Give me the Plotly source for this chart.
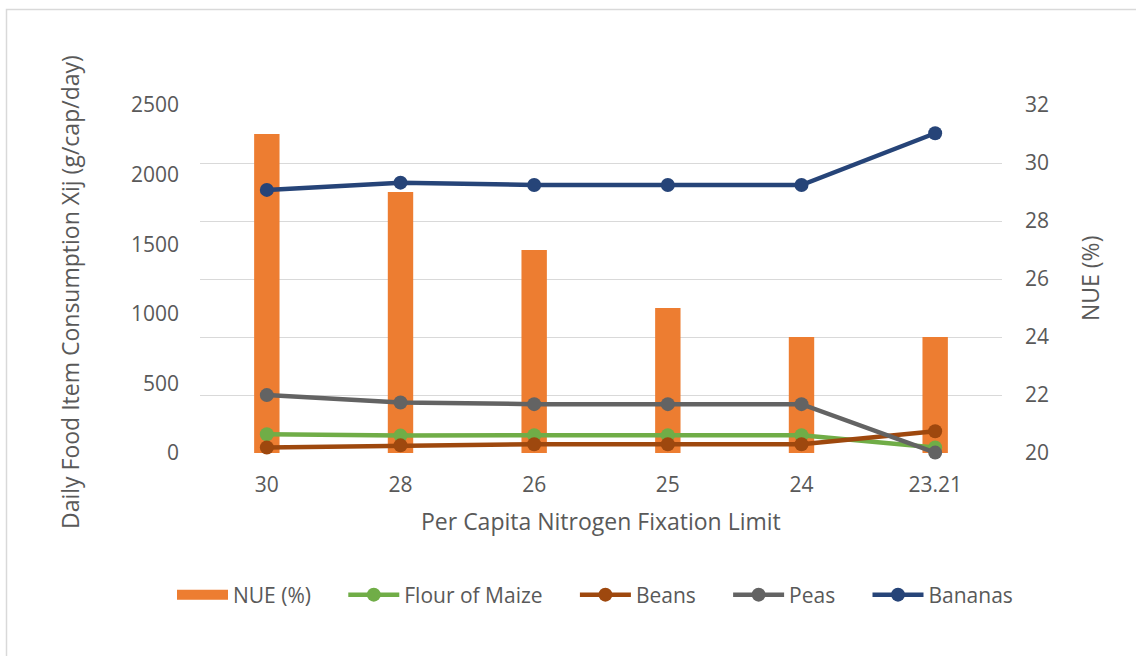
import plotly.graph_objects as go

# Per capita nitrogen fixation limit scenarios (category axis)
limits = ["30", "28", "26", "25", "24", "23.21"]

# Nitrogen use efficiency (%) per scenario
nue = [31, 29, 27, 25, 24, 24]

# Daily consumption (g/cap/day) of selected food items
flour_of_maize = [135, 125, 128, 128, 128, 40]
beans = [40, 55, 63, 63, 63, 156]
peas = [416, 363, 351, 351, 351, 3]
bananas = [1890, 1942, 1925, 1925, 1925, 2297]

FONT = "Open Sans"
GREY = "#595959"
ORANGE = "#ED7D31"
PAD = "\u00a0" * 5  # extra spacing between legend entries

fig = go.Figure()

fig.add_trace(go.Bar(
    x=limits, y=nue, name="NUE (%)", legendgroup="nue", showlegend=False,
    marker=dict(color=ORANGE, line=dict(width=0)),
    width=0.19, yaxis="y",
))
# wide swatch for the NUE legend entry
fig.add_trace(go.Scatter(
    x=[None], y=[None], name="NUE (%)" + PAD, legendgroup="nue", mode="lines",
    line=dict(color=ORANGE, width=16), yaxis="y", hoverinfo="skip",
))

line_series = [
    ("Flour of Maize", flour_of_maize, "#70AD47"),
    ("Beans", beans, "#9E480E"),
    ("Peas", peas, "#636363"),
    ("Bananas", bananas, "#264478"),
]
for i, (name, vals, color) in enumerate(line_series):
    label = name if i == len(line_series) - 1 else name + PAD
    fig.add_trace(go.Scatter(
        x=limits, y=vals, name=label, mode="lines+markers",
        line=dict(color=color, width=4.5),
        marker=dict(color=color, size=14),
        yaxis="y2", cliponaxis=False,
        hovertemplate=name + ": %{y}<extra></extra>",
    ))

fig.update_layout(
    width=1136, height=656,
    margin=dict(l=200, r=134, t=105, b=203),
    paper_bgcolor="white", plot_bgcolor="white",
    font=dict(family=FONT, color=GREY, size=20),
    xaxis=dict(
        type="category", showgrid=False, zeroline=False,
        showline=False, ticks="", ticklabelstandoff=17,
        tickfont=dict(size=21, color=GREY),
    ),
    yaxis=dict(
        side="right", range=[20, 32], dtick=2, showgrid=True,
        gridcolor="#D9D9D9", gridwidth=1.3, zeroline=False, showline=False,
        ticks="", ticklabelstandoff=22, tickfont=dict(size=21, color=GREY),
    ),
    yaxis2=dict(
        overlaying="y", side="left", range=[0, 2500], dtick=500,
        showgrid=False, zeroline=False, showline=False, ticks="",
        ticklabelstandoff=20, tickfont=dict(size=21, color=GREY),
    ),
    legend=dict(
        orientation="h", x=(172 - 200) / 802, xanchor="left",
        y=(453 - 595) / 348, yanchor="middle",
        font=dict(size=21, color=GREY), itemwidth=51,
        traceorder="normal", bgcolor="rgba(0,0,0,0)",
    ),
    showlegend=True,
    annotations=[
        dict(text="Daily Food Item Consumption Xij (g/cap/day)",
             xref="paper", yref="paper", x=(70 - 200) / 802, y=(453 - 292) / 348,
             textangle=-90, showarrow=False, xanchor="center", yanchor="middle",
             font=dict(size=23, color=GREY)),
        dict(text="NUE (%)",
             xref="paper", yref="paper", x=(1090 - 200) / 802, y=0.5,
             textangle=-90, showarrow=False, xanchor="center", yanchor="middle",
             font=dict(size=23, color=GREY)),
        dict(text="Per Capita Nitrogen Fixation Limit",
             xref="paper", yref="paper", x=(601 - 200) / 802, y=(453 - 521) / 348,
             showarrow=False, xanchor="center", yanchor="middle",
             font=dict(size=23, color=GREY)),
    ],
    shapes=[
        dict(type="rect", xref="paper", yref="paper",
             x0=(6.5 - 200) / 802, x1=(1160 - 200) / 802,
             y0=(453 - 700) / 348, y1=(453 - 9.5) / 348,
             line=dict(color="#D9D9D9", width=1.5), layer="below"),
    ],
)

fig.write_html("out.html")
